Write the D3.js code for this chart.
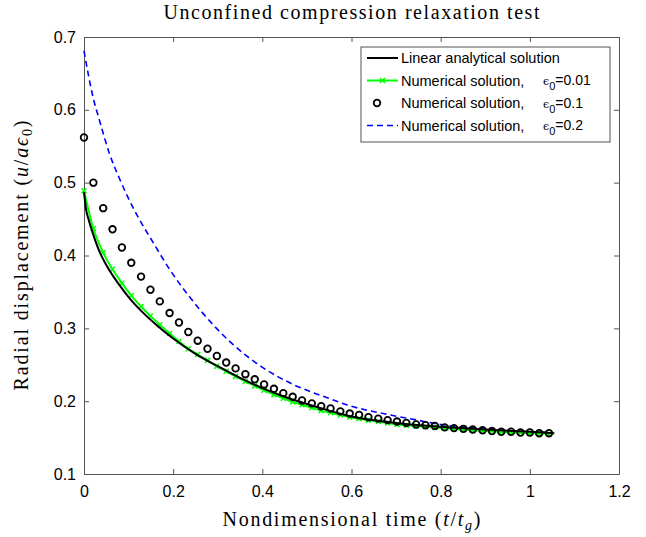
<!DOCTYPE html>
<html>
<head>
<meta charset="utf-8">
<script src="https://cdn.jsdelivr.net/npm/d3@7"></script>
<style>
  body { margin: 0; background: #fff; }
  svg text { fill: #000; }
  .tick text { font-family: "Liberation Sans", Arial, sans-serif; font-size: 16px; }
  .serif { font-family: "Liberation Serif", "Times New Roman", serif; }
</style>
</head>
<body>
<script>
// analytical solution (t, u/a eps0)
const exactT = [0, 0.005, 0.01, 0.02, 0.035, 0.05, 0.065, 0.08, 0.1, 0.13, 0.16, 0.2, 0.25, 0.3, 0.35, 0.4, 0.45, 0.5, 0.55, 0.6, 0.7, 0.8, 0.9, 1.0, 1.055];
const exactU = [0.487, 0.462, 0.450, 0.430, 0.405, 0.387, 0.372, 0.359, 0.343, 0.323, 0.306, 0.286, 0.265, 0.248, 0.232, 0.218, 0.206, 0.196, 0.187, 0.179, 0.170, 0.165, 0.161, 0.158, 0.156];

// output times of the numerical runs
const numT = [0, 0.021, 0.043, 0.064, 0.085, 0.106, 0.128, 0.149, 0.170, 0.192,
  0.213, 0.234, 0.255, 0.277, 0.298, 0.319, 0.340, 0.362, 0.383, 0.404,
  0.426, 0.447, 0.468, 0.489, 0.511, 0.532, 0.553, 0.575, 0.596, 0.617,
  0.638, 0.660, 0.681, 0.702, 0.723, 0.745, 0.766, 0.787, 0.809, 0.830,
  0.851, 0.872, 0.894, 0.915, 0.936, 0.958, 0.979, 1.000, 1.021, 1.043];

// eps0 = 0.01
const num001 = [0.489, 0.437, 0.404, 0.381, 0.362, 0.345, 0.330, 0.317, 0.305, 0.293,
  0.282, 0.272, 0.264, 0.256, 0.248, 0.241, 0.234, 0.227, 0.221, 0.215,
  0.209, 0.204, 0.199, 0.195, 0.191, 0.187, 0.184, 0.181, 0.178, 0.176,
  0.174, 0.172, 0.170, 0.168, 0.167, 0.166, 0.165, 0.164, 0.163, 0.162,
  0.161, 0.160, 0.159, 0.159, 0.158, 0.157, 0.157, 0.156, 0.156, 0.155];

// eps0 = 0.1
const num01 = [0.562, 0.500, 0.465, 0.436, 0.411, 0.390, 0.371, 0.353, 0.337, 0.321,
  0.308, 0.295, 0.283, 0.272, 0.262, 0.253, 0.245, 0.237, 0.230, 0.223,
  0.217, 0.211, 0.206, 0.201, 0.197, 0.193, 0.190, 0.186, 0.183, 0.181,
  0.178, 0.176, 0.174, 0.172, 0.170, 0.168, 0.167, 0.166, 0.164, 0.163,
  0.162, 0.161, 0.160, 0.159, 0.158, 0.158, 0.157, 0.157, 0.156, 0.156];

// eps0 = 0.2
const num02T = [0, 0.02, 0.035, 0.057, 0.08, 0.1, 0.136, 0.147, 0.192, 0.237, 0.282, 0.334, 0.394, 0.469, 0.544, 0.6, 0.671, 0.747, 0.8, 0.9, 1.0, 1.043];
const num02U = [0.681, 0.618, 0.585, 0.540, 0.505, 0.478, 0.437, 0.426, 0.381, 0.343, 0.310, 0.278, 0.249, 0.223, 0.205, 0.193, 0.183, 0.174, 0.168, 0.162, 0.158, 0.157];

const xTicks = [0, 0.2, 0.4, 0.6, 0.8, 1, 1.2];
const yTicks = [0.1, 0.2, 0.3, 0.4, 0.5, 0.6, 0.7];

const width = 646, height = 537;
const margin = { top: 37, right: 27, bottom: 63, left: 84 };
const w = width - margin.left - margin.right;
const h = height - margin.top - margin.bottom;

const svg = d3.select("body").append("svg")
  .attr("width", width)
  .attr("height", height);

const x = d3.scaleLinear().domain([0, 1.2]).range([0, w]);
const y = d3.scaleLinear().domain([0.1, 0.7]).range([h, 0]);

const g = svg.append("g")
  .attr("transform", "translate(" + margin.left + "," + margin.top + ")");

// axes, ticks pointing inward, mirrored on top/right
const axisColor = "#555";
function styleAxis(sel) {
  sel.select(".domain").attr("stroke", axisColor);
  sel.selectAll(".tick line").attr("stroke", axisColor);
}
g.append("g").attr("transform", "translate(0," + h + ")")
  .call(d3.axisBottom(x).tickValues(xTicks).tickSize(-5).tickSizeOuter(0).tickPadding(12).tickFormat(d3.format("")))
  .call(styleAxis);
g.append("g")
  .call(d3.axisLeft(y).tickValues(yTicks).tickSize(-5).tickSizeOuter(0).tickPadding(8).tickFormat(d3.format(".1f")))
  .call(styleAxis);
g.append("g")
  .call(d3.axisTop(x).tickValues(xTicks).tickSize(-5).tickSizeOuter(0).tickFormat(""))
  .call(styleAxis);
g.append("g").attr("transform", "translate(" + w + ",0)")
  .call(d3.axisRight(y).tickValues(yTicks).tickSize(-5).tickSizeOuter(0).tickFormat(""))
  .call(styleAxis);
g.selectAll(".tick text").attr("fill", "#000");

const plot = g.append("g");

const exact = exactT.map((t, i) => [t, exactU[i]]);
const d001 = numT.map((t, i) => [t, num001[i]]);
const d01 = numT.map((t, i) => [t, num01[i]]);
const d02 = num02T.map((t, i) => [t, num02U[i]]);

const line = d3.line().x(d => x(d[0])).y(d => y(d[1])).curve(d3.curveMonotoneX);

plot.append("path").datum(d02)
  .attr("d", line).attr("fill", "none")
  .attr("stroke", "#0000ff").attr("stroke-width", 1.6).attr("stroke-dasharray", "6,4");

plot.append("path").datum(d001)
  .attr("d", line).attr("fill", "none")
  .attr("stroke", "#00ff00").attr("stroke-width", 2);

const cross = d3.symbol().type(d3.symbolX).size(18);
plot.selectAll(".xm").data(d001).enter().append("path")
  .attr("class", "xm")
  .attr("transform", d => "translate(" + x(d[0]) + "," + y(d[1]) + ")")
  .attr("d", cross).attr("fill", "none").attr("stroke", "#00ff00").attr("stroke-width", 1.5);

plot.append("path").datum(exact)
  .attr("d", line).attr("fill", "none")
  .attr("stroke", "#000").attr("stroke-width", 2);

plot.selectAll(".circ").data(d01).enter().append("circle")
  .attr("class", "circ")
  .attr("cx", d => x(d[0])).attr("cy", d => y(d[1]))
  .attr("r", 3.3).attr("fill", "none").attr("stroke", "#000").attr("stroke-width", 1.8);

// title and labels (LaTeX-like, wide serif)
svg.append("text").attr("class", "serif")
  .attr("x", margin.left + w / 2).attr("y", 19)
  .attr("text-anchor", "middle").style("font-size", "20px")
  .attr("textLength", 376).attr("lengthAdjust", "spacing")
  .text("Unconfined compression relaxation test");

const xl = svg.append("text").attr("class", "serif")
  .attr("x", margin.left + w / 2).attr("y", 526)
  .attr("text-anchor", "middle").style("font-size", "20px")
  .attr("textLength", 258).attr("lengthAdjust", "spacing");
xl.append("tspan").text("Nondimensional time (");
xl.append("tspan").style("font-style", "italic").text("t");
xl.append("tspan").text("/");
xl.append("tspan").style("font-style", "italic").text("t");
xl.append("tspan").attr("baseline-shift", "-4").style("font-size", "14px").style("font-style", "italic").text("g");
xl.append("tspan").attr("baseline-shift", "0").text(")");

const yl = svg.append("text").attr("class", "serif")
  .attr("transform", "translate(28," + (margin.top + h / 2) + ") rotate(-90)")
  .attr("text-anchor", "middle").style("font-size", "20px")
  .attr("textLength", 270).attr("lengthAdjust", "spacing");
yl.append("tspan").text("Radial displacement (");
yl.append("tspan").style("font-style", "italic").text("u");
yl.append("tspan").text("/");
yl.append("tspan").style("font-style", "italic").text("aϵ");
yl.append("tspan").attr("baseline-shift", "-4").style("font-size", "14px").text("0");
yl.append("tspan").attr("baseline-shift", "0").text(")");

// legend
const legendRows = ["Linear analytical solution", "Numerical solution,", "Numerical solution,", "Numerical solution,"];
const legendEps = [null, "0.01", "0.1", "0.2"];
const lg = svg.append("g").attr("transform", "translate(361,47)");
lg.append("rect").attr("width", 249).attr("height", 95)
  .attr("fill", "#fff").attr("stroke", axisColor);
const rowY = i => 11 + i * 22.5;
legendRows.forEach((txt, i) => {
  const r = lg.append("g").attr("transform", "translate(0," + rowY(i) + ")");
  if (i === 0) {
    r.append("line").attr("x1", 6).attr("x2", 37).attr("stroke", "#000").attr("stroke-width", 2);
  } else if (i === 1) {
    r.append("line").attr("x1", 6).attr("x2", 37).attr("stroke", "#00ff00").attr("stroke-width", 2);
    r.append("path").attr("transform", "translate(21.5,0)").attr("d", cross)
      .attr("fill", "none").attr("stroke", "#00ff00").attr("stroke-width", 1.5);
  } else if (i === 2) {
    r.append("circle").attr("cx", 16).attr("r", 3.3).attr("fill", "none").attr("stroke", "#000").attr("stroke-width", 1.8);
  } else {
    r.append("line").attr("x1", 6).attr("x2", 37).attr("stroke", "#0000ff").attr("stroke-width", 1.6).attr("stroke-dasharray", "6,4");
  }
  r.append("text").attr("x", 40).attr("dy", "0.35em")
    .style("font-family", "Liberation Sans, Arial, sans-serif").style("font-size", "14.5px")
    .text(txt);
  if (legendEps[i]) {
    const e = r.append("text").attr("x", 182).attr("dy", "0.35em")
      .style("font-family", "Liberation Sans, Arial, sans-serif").style("font-size", "14px");
    e.append("tspan").style("font-family", "DejaVu Serif, serif").style("font-size", "11px").text("ϵ");
    e.append("tspan").attr("baseline-shift", "-5").style("font-size", "11px").text("0");
    e.append("tspan").attr("baseline-shift", "0").text("=" + legendEps[i]);
  }
});
</script>
</body>
</html>
